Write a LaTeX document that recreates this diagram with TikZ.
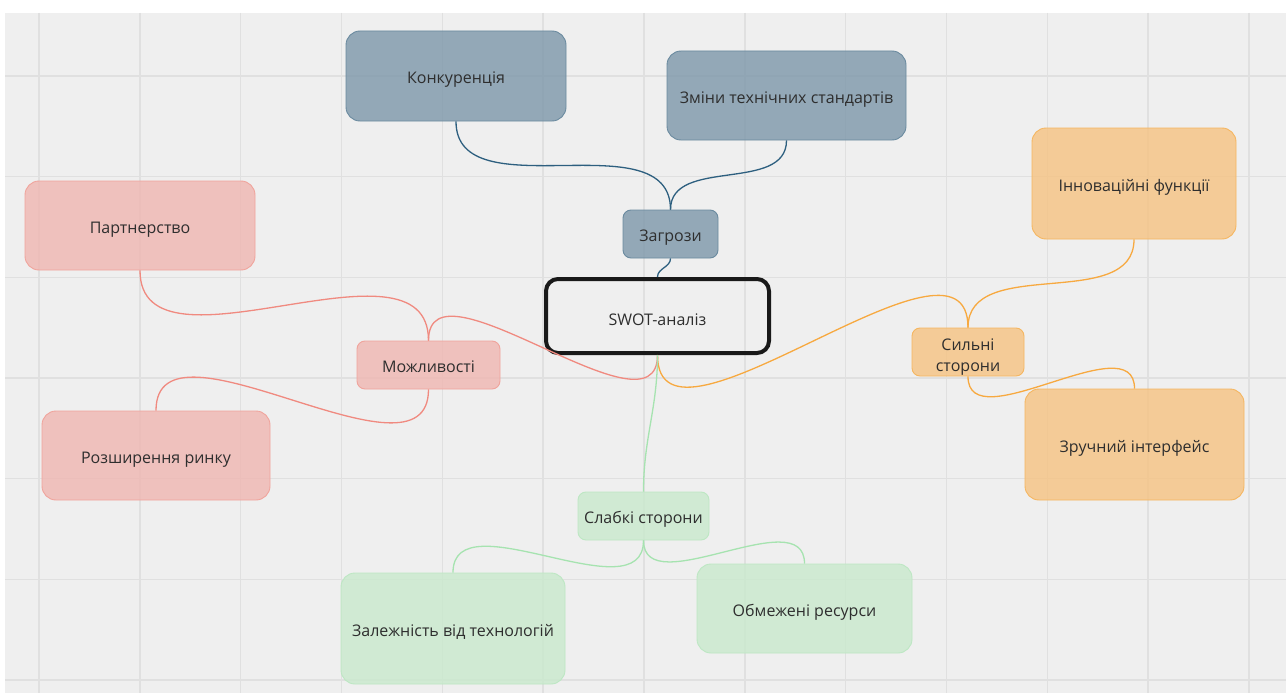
\documentclass[tikz,border=0pt]{standalone}
\usepackage{fontspec}
\setmainfont{Open Sans}
\definecolor{bgc}{HTML}{EFEFEF}
\definecolor{gridc}{HTML}{E0E0E0}
\definecolor{txt}{HTML}{2E2E2E}
\definecolor{bluef}{RGB}{125,151,169}
\definecolor{blued}{HTML}{6A8A9F}
\definecolor{bluel}{HTML}{2D5F7F}
\definecolor{redf}{RGB}{240,182,177}
\definecolor{redd}{HTML}{F0A49C}
\definecolor{redl}{HTML}{F08A80}
\definecolor{orf}{RGB}{246,195,130}
\definecolor{ord}{HTML}{F5B660}
\definecolor{orl}{HTML}{F7A940}
\definecolor{grf}{RGB}{201,233,205}
\definecolor{grd}{HTML}{BDE7C3}
\definecolor{grl}{HTML}{A6E3B0}
\begin{document}
\begin{tikzpicture}[x=1pt,y=1pt,
  tx/.style={text=txt, font=\fontsize{16}{21}\selectfont, text height=18.9pt, text depth=3.84pt},
  box/.style={tx, rounded corners=14pt, inner sep=0pt, line width=0.9pt, fill opacity=0.8, text opacity=1, align=center},
  sbox/.style={box, rounded corners=8pt},
  bluebox/.style={draw=blued, fill=bluef},
  redbox/.style={draw=redd, fill=redf},
  orbox/.style={draw=ord, fill=orf},
  grbox/.style={draw=grd, fill=grf},
  wh/.style 2 args={minimum width=#1, minimum height=#2},
  link/.style={line width=1.3pt}
]
\useasboundingbox (0,0) rectangle (1286,-693);
\fill[white] (0,0) rectangle (1286,-693);
\fill[bgc] (5,-13) rectangle (1286,-693);
\foreach \i in {0,...,12} {\draw[gridc, line width=1.4pt] ({39+100.83*\i},-13) -- ({39+100.83*\i},-693);}
\foreach \j in {0,...,6} {\draw[gridc, line width=1.4pt] (5,{-76-100.67*\j}) -- (1286,{-76-100.67*\j});}

% central node
\node[tx, text height=22.4pt, draw=black!90, line width=4pt, rounded corners=12pt, minimum width=223pt, minimum height=74pt] (swot) at (657.5,-316) {SWOT-аналіз};

% threats
\node[sbox, bluebox, wh={95pt}{48pt}] (zagr) at (670.5,-234) {Загрози};
\node[box, bluebox, wh={220pt}{90pt}] (konk) at (456,-76) {Конкуренція};
\node[box, bluebox, wh={239pt}{89pt}] (zminy) at (786.5,-95.5) {Зміни технічних стандартів};

% opportunities
\node[sbox, redbox, wh={143pt}{48pt}] (mozh) at (428.5,-365) {Можливості};
\node[box, redbox, wh={230pt}{89pt}] (partn) at (140,-225.5) {Партнерство};
\node[box, redbox, wh={228pt}{89pt}] (rozsh) at (156,-455.5) {Розширення ринку};

% strengths
\node[sbox, orbox, wh={112pt}{48pt}, text height=43.4pt] (sylni) at (968,-352) {Сильні\\сторони};
\node[box, orbox, wh={204pt}{111pt}] (innov) at (1134,-183.5) {Інноваційні функції};
\node[box, orbox, wh={219pt}{111pt}] (zruch) at (1134.5,-444.5) {Зручний інтерфейс};

% weaknesses
\node[sbox, grbox, wh={131pt}{48pt}] (slabki) at (643.5,-516) {Слабкі сторони};
\node[box, grbox, wh={224pt}{111pt}] (zalezh) at (453,-628.5) {Залежність від технологій};
\node[box, grbox, wh={215pt}{89pt}] (obmezh) at (804.5,-608.5) {Обмежені ресурси};

% connectors
\draw[link, bluel] (swot.north) to[out=90,in=-90] (zagr.south);
\draw[link, bluel] (zagr.north) to[out=90,in=-90] (konk.south);
\draw[link, bluel] (zagr.north) to[out=90,in=-90] (zminy.south);

\draw[link, redl] (swot.south) to[out=-90,in=90] (mozh.north);
\draw[link, redl] (mozh.north) to[out=90,in=-90] (partn.south);
\draw[link, redl] (mozh.south) to[out=-90,in=90] (rozsh.north);

\draw[link, orl] (swot.south) to[out=-90,in=90] (sylni.north);
\draw[link, orl] (sylni.north) to[out=90,in=-90] (innov.south);
\draw[link, orl] (sylni.south) to[out=-90,in=90] (zruch.north);

\draw[link, grl] (swot.south) to[out=-90,in=90] (slabki.north);
\draw[link, grl] (slabki.south) to[out=-90,in=90] (zalezh.north);
\draw[link, grl] (slabki.south) to[out=-90,in=90] (obmezh.north);
\end{tikzpicture}
\end{document}
